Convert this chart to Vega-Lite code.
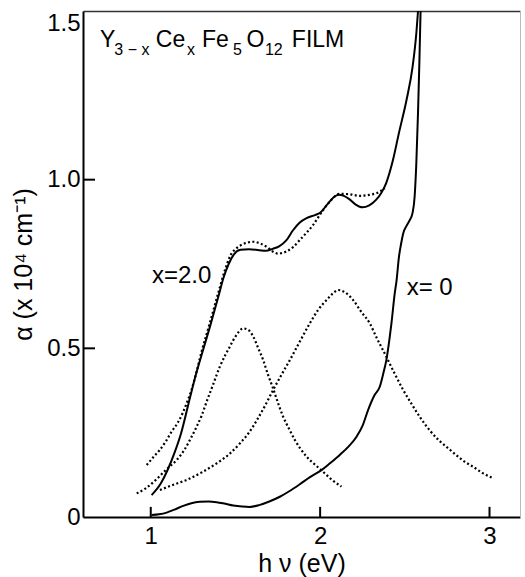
{
  "$schema": "https://vega.github.io/schema/vega-lite/v6.json",
  "width": 437,
  "height": 506,
  "autosize": "none",
  "padding": {"left": 83, "top": 11, "right": 5, "bottom": 60},
  "background": "white",
  "config": {
    "view": {"stroke": null},
    "font": "Liberation Sans",
    "axis": {"grid": false, "domainColor": "black", "tickColor": "black", "labelColor": "black", "titleColor": "black", "labelFont": "Liberation Sans", "titleFont": "Liberation Sans", "titleFontWeight": "normal"}
  },
  "datasets": {
    "curves": [
      {"curve": "x2", "kind": "solid", "x": 1.005, "y": 0.065},
      {"curve": "x2", "kind": "solid", "x": 1.06, "y": 0.10},
      {"curve": "x2", "kind": "solid", "x": 1.10, "y": 0.14},
      {"curve": "x2", "kind": "solid", "x": 1.14, "y": 0.19},
      {"curve": "x2", "kind": "solid", "x": 1.18, "y": 0.25},
      {"curve": "x2", "kind": "solid", "x": 1.22, "y": 0.33},
      {"curve": "x2", "kind": "solid", "x": 1.26, "y": 0.41},
      {"curve": "x2", "kind": "solid", "x": 1.30, "y": 0.48},
      {"curve": "x2", "kind": "solid", "x": 1.35, "y": 0.565},
      {"curve": "x2", "kind": "solid", "x": 1.40, "y": 0.655},
      {"curve": "x2", "kind": "solid", "x": 1.43, "y": 0.71},
      {"curve": "x2", "kind": "solid", "x": 1.46, "y": 0.75},
      {"curve": "x2", "kind": "solid", "x": 1.49, "y": 0.778},
      {"curve": "x2", "kind": "solid", "x": 1.53, "y": 0.792},
      {"curve": "x2", "kind": "solid", "x": 1.58, "y": 0.794},
      {"curve": "x2", "kind": "solid", "x": 1.64, "y": 0.791},
      {"curve": "x2", "kind": "solid", "x": 1.68, "y": 0.789},
      {"curve": "x2", "kind": "solid", "x": 1.72, "y": 0.795},
      {"curve": "x2", "kind": "solid", "x": 1.76, "y": 0.803},
      {"curve": "x2", "kind": "solid", "x": 1.80, "y": 0.82},
      {"curve": "x2", "kind": "solid", "x": 1.84, "y": 0.85},
      {"curve": "x2", "kind": "solid", "x": 1.88, "y": 0.873},
      {"curve": "x2", "kind": "solid", "x": 1.92, "y": 0.886},
      {"curve": "x2", "kind": "solid", "x": 1.97, "y": 0.895},
      {"curve": "x2", "kind": "solid", "x": 2.00, "y": 0.902},
      {"curve": "x2", "kind": "solid", "x": 2.04, "y": 0.925},
      {"curve": "x2", "kind": "solid", "x": 2.08, "y": 0.948},
      {"curve": "x2", "kind": "solid", "x": 2.11, "y": 0.955},
      {"curve": "x2", "kind": "solid", "x": 2.14, "y": 0.952},
      {"curve": "x2", "kind": "solid", "x": 2.17, "y": 0.943},
      {"curve": "x2", "kind": "solid", "x": 2.21, "y": 0.926},
      {"curve": "x2", "kind": "solid", "x": 2.25, "y": 0.918},
      {"curve": "x2", "kind": "solid", "x": 2.29, "y": 0.924},
      {"curve": "x2", "kind": "solid", "x": 2.33, "y": 0.94},
      {"curve": "x2", "kind": "solid", "x": 2.36, "y": 0.96},
      {"curve": "x2", "kind": "solid", "x": 2.39, "y": 0.99},
      {"curve": "x2", "kind": "solid", "x": 2.43, "y": 1.058},
      {"curve": "x2", "kind": "solid", "x": 2.465, "y": 1.138},
      {"curve": "x2", "kind": "solid", "x": 2.51, "y": 1.236},
      {"curve": "x2", "kind": "solid", "x": 2.546, "y": 1.335},
      {"curve": "x2", "kind": "solid", "x": 2.568, "y": 1.434},
      {"curve": "x2", "kind": "solid", "x": 2.578, "y": 1.5},

      {"curve": "x0", "kind": "solid", "x": 1.005, "y": 0.006},
      {"curve": "x0", "kind": "solid", "x": 1.05, "y": 0.008},
      {"curve": "x0", "kind": "solid", "x": 1.094, "y": 0.013},
      {"curve": "x0", "kind": "solid", "x": 1.14, "y": 0.022},
      {"curve": "x0", "kind": "solid", "x": 1.192, "y": 0.033},
      {"curve": "x0", "kind": "solid", "x": 1.24, "y": 0.041},
      {"curve": "x0", "kind": "solid", "x": 1.29, "y": 0.045},
      {"curve": "x0", "kind": "solid", "x": 1.34, "y": 0.046},
      {"curve": "x0", "kind": "solid", "x": 1.389, "y": 0.044},
      {"curve": "x0", "kind": "solid", "x": 1.44, "y": 0.039},
      {"curve": "x0", "kind": "solid", "x": 1.487, "y": 0.034},
      {"curve": "x0", "kind": "solid", "x": 1.54, "y": 0.031},
      {"curve": "x0", "kind": "solid", "x": 1.585, "y": 0.030},
      {"curve": "x0", "kind": "solid", "x": 1.644, "y": 0.036},
      {"curve": "x0", "kind": "solid", "x": 1.70, "y": 0.046},
      {"curve": "x0", "kind": "solid", "x": 1.762, "y": 0.060},
      {"curve": "x0", "kind": "solid", "x": 1.82, "y": 0.077},
      {"curve": "x0", "kind": "solid", "x": 1.88, "y": 0.097},
      {"curve": "x0", "kind": "solid", "x": 1.94, "y": 0.118},
      {"curve": "x0", "kind": "solid", "x": 2.008, "y": 0.139},
      {"curve": "x0", "kind": "solid", "x": 2.06, "y": 0.16},
      {"curve": "x0", "kind": "solid", "x": 2.116, "y": 0.184},
      {"curve": "x0", "kind": "solid", "x": 2.17, "y": 0.21},
      {"curve": "x0", "kind": "solid", "x": 2.215, "y": 0.238},
      {"curve": "x0", "kind": "solid", "x": 2.25, "y": 0.27},
      {"curve": "x0", "kind": "solid", "x": 2.283, "y": 0.317},
      {"curve": "x0", "kind": "solid", "x": 2.32, "y": 0.36},
      {"curve": "x0", "kind": "solid", "x": 2.352, "y": 0.386},
      {"curve": "x0", "kind": "solid", "x": 2.375, "y": 0.43},
      {"curve": "x0", "kind": "solid", "x": 2.391, "y": 0.465},
      {"curve": "x0", "kind": "solid", "x": 2.41, "y": 0.53},
      {"curve": "x0", "kind": "solid", "x": 2.421, "y": 0.574},
      {"curve": "x0", "kind": "solid", "x": 2.441, "y": 0.665},
      {"curve": "x0", "kind": "solid", "x": 2.451, "y": 0.70},
      {"curve": "x0", "kind": "solid", "x": 2.465, "y": 0.77},
      {"curve": "x0", "kind": "solid", "x": 2.478, "y": 0.81},
      {"curve": "x0", "kind": "solid", "x": 2.49, "y": 0.84},
      {"curve": "x0", "kind": "solid", "x": 2.51, "y": 0.863},
      {"curve": "x0", "kind": "solid", "x": 2.529, "y": 0.88},
      {"curve": "x0", "kind": "solid", "x": 2.545, "y": 0.90},
      {"curve": "x0", "kind": "solid", "x": 2.558, "y": 0.95},
      {"curve": "x0", "kind": "solid", "x": 2.568, "y": 1.05},
      {"curve": "x0", "kind": "solid", "x": 2.578, "y": 1.2},
      {"curve": "x0", "kind": "solid", "x": 2.586, "y": 1.35},
      {"curve": "x0", "kind": "solid", "x": 2.593, "y": 1.5},

      {"curve": "fit", "kind": "dotted", "x": 0.976, "y": 0.154},
      {"curve": "fit", "kind": "dotted", "x": 1.02, "y": 0.18},
      {"curve": "fit", "kind": "dotted", "x": 1.054, "y": 0.199},
      {"curve": "fit", "kind": "dotted", "x": 1.09, "y": 0.225},
      {"curve": "fit", "kind": "dotted", "x": 1.123, "y": 0.253},
      {"curve": "fit", "kind": "dotted", "x": 1.16, "y": 0.28},
      {"curve": "fit", "kind": "dotted", "x": 1.19, "y": 0.31},
      {"curve": "fit", "kind": "dotted", "x": 1.212, "y": 0.337},
      {"curve": "fit", "kind": "dotted", "x": 1.241, "y": 0.377},
      {"curve": "fit", "kind": "dotted", "x": 1.27, "y": 0.43},
      {"curve": "fit", "kind": "dotted", "x": 1.30, "y": 0.49},
      {"curve": "fit", "kind": "dotted", "x": 1.35, "y": 0.577},
      {"curve": "fit", "kind": "dotted", "x": 1.40, "y": 0.667},
      {"curve": "fit", "kind": "dotted", "x": 1.44, "y": 0.735},
      {"curve": "fit", "kind": "dotted", "x": 1.47, "y": 0.775},
      {"curve": "fit", "kind": "dotted", "x": 1.507, "y": 0.797},
      {"curve": "fit", "kind": "dotted", "x": 1.55, "y": 0.81},
      {"curve": "fit", "kind": "dotted", "x": 1.605, "y": 0.816},
      {"curve": "fit", "kind": "dotted", "x": 1.65, "y": 0.81},
      {"curve": "fit", "kind": "dotted", "x": 1.684, "y": 0.801},
      {"curve": "fit", "kind": "dotted", "x": 1.72, "y": 0.787},
      {"curve": "fit", "kind": "dotted", "x": 1.75, "y": 0.781},
      {"curve": "fit", "kind": "dotted", "x": 1.80, "y": 0.787},
      {"curve": "fit", "kind": "dotted", "x": 1.84, "y": 0.80},
      {"curve": "fit", "kind": "dotted", "x": 1.88, "y": 0.821},
      {"curve": "fit", "kind": "dotted", "x": 1.92, "y": 0.843},
      {"curve": "fit", "kind": "dotted", "x": 1.959, "y": 0.866},
      {"curve": "fit", "kind": "dotted", "x": 2.00, "y": 0.897},
      {"curve": "fit", "kind": "dotted", "x": 2.057, "y": 0.935},
      {"curve": "fit", "kind": "dotted", "x": 2.116, "y": 0.958},
      {"curve": "fit", "kind": "dotted", "x": 2.17, "y": 0.957},
      {"curve": "fit", "kind": "dotted", "x": 2.234, "y": 0.952},
      {"curve": "fit", "kind": "dotted", "x": 2.29, "y": 0.955},
      {"curve": "fit", "kind": "dotted", "x": 2.333, "y": 0.96},
      {"curve": "fit", "kind": "dotted", "x": 2.382, "y": 0.974},

      {"curve": "p1", "kind": "dotted", "x": 0.917, "y": 0.070},
      {"curve": "p1", "kind": "dotted", "x": 0.97, "y": 0.085},
      {"curve": "p1", "kind": "dotted", "x": 1.03, "y": 0.11},
      {"curve": "p1", "kind": "dotted", "x": 1.09, "y": 0.14},
      {"curve": "p1", "kind": "dotted", "x": 1.153, "y": 0.169},
      {"curve": "p1", "kind": "dotted", "x": 1.20, "y": 0.20},
      {"curve": "p1", "kind": "dotted", "x": 1.231, "y": 0.228},
      {"curve": "p1", "kind": "dotted", "x": 1.271, "y": 0.268},
      {"curve": "p1", "kind": "dotted", "x": 1.30, "y": 0.30},
      {"curve": "p1", "kind": "dotted", "x": 1.33, "y": 0.342},
      {"curve": "p1", "kind": "dotted", "x": 1.37, "y": 0.395},
      {"curve": "p1", "kind": "dotted", "x": 1.408, "y": 0.446},
      {"curve": "p1", "kind": "dotted", "x": 1.44, "y": 0.48},
      {"curve": "p1", "kind": "dotted", "x": 1.467, "y": 0.505},
      {"curve": "p1", "kind": "dotted", "x": 1.50, "y": 0.535},
      {"curve": "p1", "kind": "dotted", "x": 1.546, "y": 0.559},
      {"curve": "p1", "kind": "dotted", "x": 1.575, "y": 0.555},
      {"curve": "p1", "kind": "dotted", "x": 1.605, "y": 0.535},
      {"curve": "p1", "kind": "dotted", "x": 1.635, "y": 0.50},
      {"curve": "p1", "kind": "dotted", "x": 1.664, "y": 0.465},
      {"curve": "p1", "kind": "dotted", "x": 1.69, "y": 0.425},
      {"curve": "p1", "kind": "dotted", "x": 1.723, "y": 0.38},
      {"curve": "p1", "kind": "dotted", "x": 1.75, "y": 0.34},
      {"curve": "p1", "kind": "dotted", "x": 1.782, "y": 0.297},
      {"curve": "p1", "kind": "dotted", "x": 1.82, "y": 0.258},
      {"curve": "p1", "kind": "dotted", "x": 1.851, "y": 0.228},
      {"curve": "p1", "kind": "dotted", "x": 1.88, "y": 0.205},
      {"curve": "p1", "kind": "dotted", "x": 1.92, "y": 0.179},
      {"curve": "p1", "kind": "dotted", "x": 1.97, "y": 0.155},
      {"curve": "p1", "kind": "dotted", "x": 2.018, "y": 0.134},
      {"curve": "p1", "kind": "dotted", "x": 2.07, "y": 0.11},
      {"curve": "p1", "kind": "dotted", "x": 2.126, "y": 0.09},

      {"curve": "p2", "kind": "dotted", "x": 1.054, "y": 0.080},
      {"curve": "p2", "kind": "dotted", "x": 1.13, "y": 0.095},
      {"curve": "p2", "kind": "dotted", "x": 1.212, "y": 0.110},
      {"curve": "p2", "kind": "dotted", "x": 1.30, "y": 0.132},
      {"curve": "p2", "kind": "dotted", "x": 1.389, "y": 0.159},
      {"curve": "p2", "kind": "dotted", "x": 1.46, "y": 0.185},
      {"curve": "p2", "kind": "dotted", "x": 1.526, "y": 0.218},
      {"curve": "p2", "kind": "dotted", "x": 1.58, "y": 0.25},
      {"curve": "p2", "kind": "dotted", "x": 1.63, "y": 0.29},
      {"curve": "p2", "kind": "dotted", "x": 1.68, "y": 0.335},
      {"curve": "p2", "kind": "dotted", "x": 1.723, "y": 0.377},
      {"curve": "p2", "kind": "dotted", "x": 1.77, "y": 0.42},
      {"curve": "p2", "kind": "dotted", "x": 1.821, "y": 0.465},
      {"curve": "p2", "kind": "dotted", "x": 1.88, "y": 0.52},
      {"curve": "p2", "kind": "dotted", "x": 1.939, "y": 0.574},
      {"curve": "p2", "kind": "dotted", "x": 1.99, "y": 0.615},
      {"curve": "p2", "kind": "dotted", "x": 2.038, "y": 0.643},
      {"curve": "p2", "kind": "dotted", "x": 2.08, "y": 0.665},
      {"curve": "p2", "kind": "dotted", "x": 2.106, "y": 0.673},
      {"curve": "p2", "kind": "dotted", "x": 2.15, "y": 0.665},
      {"curve": "p2", "kind": "dotted", "x": 2.195, "y": 0.643},
      {"curve": "p2", "kind": "dotted", "x": 2.24, "y": 0.61},
      {"curve": "p2", "kind": "dotted", "x": 2.293, "y": 0.574},
      {"curve": "p2", "kind": "dotted", "x": 2.333, "y": 0.532},
      {"curve": "p2", "kind": "dotted", "x": 2.391, "y": 0.475},
      {"curve": "p2", "kind": "dotted", "x": 2.44, "y": 0.425},
      {"curve": "p2", "kind": "dotted", "x": 2.49, "y": 0.377},
      {"curve": "p2", "kind": "dotted", "x": 2.54, "y": 0.335},
      {"curve": "p2", "kind": "dotted", "x": 2.588, "y": 0.297},
      {"curve": "p2", "kind": "dotted", "x": 2.65, "y": 0.255},
      {"curve": "p2", "kind": "dotted", "x": 2.70, "y": 0.228},
      {"curve": "p2", "kind": "dotted", "x": 2.746, "y": 0.208},
      {"curve": "p2", "kind": "dotted", "x": 2.80, "y": 0.185},
      {"curve": "p2", "kind": "dotted", "x": 2.85, "y": 0.165},
      {"curve": "p2", "kind": "dotted", "x": 2.903, "y": 0.149},
      {"curve": "p2", "kind": "dotted", "x": 2.96, "y": 0.13},
      {"curve": "p2", "kind": "dotted", "x": 3.021, "y": 0.115}
    ],
    "titleMain": [
      {"t": "Y", "x": 0.700, "y": 1.393},
      {"t": "Ce", "x": 1.030, "y": 1.393},
      {"t": "Fe", "x": 1.302, "y": 1.393},
      {"t": "O", "x": 1.565, "y": 1.393},
      {"t": "FILM", "x": 1.833, "y": 1.393}
    ],
    "titleSub": [
      {"t": "3 − x", "x": 0.785, "y": 1.370},
      {"t": "x", "x": 1.214, "y": 1.370},
      {"t": "5", "x": 1.485, "y": 1.370},
      {"t": "12", "x": 1.674, "y": 1.370}
    ],
    "labels": [
      {"t": "x=2.0", "x": 1.007, "y": 0.694},
      {"t": "x= 0", "x": 2.511, "y": 0.658}
    ],
    "xticks": [{"v": 1}, {"v": 2}, {"v": 3}],
    "yticks": [{"v": 0.5}, {"v": 1.0}]
  },
  "layer": [
    {
      "data": {"name": "curves"},
      "transform": [{"filter": "datum.kind == 'solid'"}],
      "mark": {"type": "line", "interpolate": "monotone", "color": "black", "strokeWidth": 2, "clip": true},
      "encoding": {
        "x": {"field": "x", "type": "quantitative", "scale": {"domain": [0.6, 3.18], "nice": false, "zero": false},
          "axis": {"values": [1, 2, 3], "format": "d", "ticks": false, "domainWidth": 2, "labelFontSize": 24, "labelPadding": 7, "title": "h ν  (eV)", "titleFontSize": 25, "titlePadding": 3}},
        "y": {"field": "y", "type": "quantitative", "scale": {"domain": [0, 1.5], "nice": false},
          "axis": {"values": [0, 0.5, 1, 1.5], "labelExpr": "datum.value == 0 ? '0' : format(datum.value, '.1f')", "labelBaseline": {"condition": {"test": "datum.value == 1.5", "value": "top"}, "value": "middle"}, "ticks": false, "domainWidth": 2, "labelFontSize": 24, "labelPadding": 3, "title": "α (x 10⁴ cm⁻¹)", "titleFontSize": 25, "titlePadding": 10}},
        "detail": {"field": "curve"}
      }
    },
    {
      "data": {"name": "curves"},
      "transform": [{"filter": "datum.kind == 'dotted'"}],
      "mark": {"type": "line", "interpolate": "monotone", "color": "black", "strokeWidth": 2.2, "strokeDash": [2, 2.4], "clip": true},
      "encoding": {
        "x": {"field": "x", "type": "quantitative", "axis": null},
        "y": {"field": "y", "type": "quantitative", "axis": null},
        "detail": {"field": "curve"}
      }
    },
    {
      "data": {"name": "xticks"},
      "mark": {"type": "rule", "color": "black", "strokeWidth": 2},
      "encoding": {
        "x": {"field": "v", "type": "quantitative", "axis": null},
        "y": {"datum": 0, "type": "quantitative", "axis": null},
        "y2": {"datum": 0.03}
      }
    },
    {
      "data": {"name": "yticks"},
      "mark": {"type": "rule", "color": "black", "strokeWidth": 2},
      "encoding": {
        "y": {"field": "v", "type": "quantitative", "axis": null},
        "x": {"datum": 0.6, "type": "quantitative", "axis": null},
        "x2": {"datum": 0.671}
      }
    },
    {
      "data": {"name": "titleMain"},
      "mark": {"type": "text", "align": "left", "baseline": "alphabetic", "fontSize": 23, "font": "Liberation Sans", "color": "black"},
      "encoding": {"x": {"field": "x", "type": "quantitative", "axis": null}, "y": {"field": "y", "type": "quantitative", "axis": null}, "text": {"field": "t"}}
    },
    {
      "data": {"name": "titleSub"},
      "mark": {"type": "text", "align": "left", "baseline": "alphabetic", "fontSize": 16, "font": "Liberation Sans", "color": "black"},
      "encoding": {"x": {"field": "x", "type": "quantitative", "axis": null}, "y": {"field": "y", "type": "quantitative", "axis": null}, "text": {"field": "t"}}
    },
    {
      "data": {"name": "labels"},
      "mark": {"type": "text", "align": "left", "baseline": "alphabetic", "fontSize": 24, "font": "Liberation Sans", "color": "black"},
      "encoding": {"x": {"field": "x", "type": "quantitative", "axis": null}, "y": {"field": "y", "type": "quantitative", "axis": null}, "text": {"field": "t"}}
    },
    {
      "data": {"values": [{"a": 1}]},
      "mark": {"type": "rule", "color": "black", "strokeWidth": 0},
      "encoding": {
        "x": {"field": "a", "type": "quantitative", "axis": {"orient": "top", "labels": false, "ticks": false, "title": null, "domainWidth": 1.5, "domainColor": "#333"}},
        "y": {"field": "a", "type": "quantitative", "axis": {"orient": "right", "labels": false, "ticks": false, "title": null, "domainWidth": 1, "domainColor": "#bbb"}}
      }
    }
  ],
  "resolve": {"axis": {"x": "independent", "y": "independent"}}
}
